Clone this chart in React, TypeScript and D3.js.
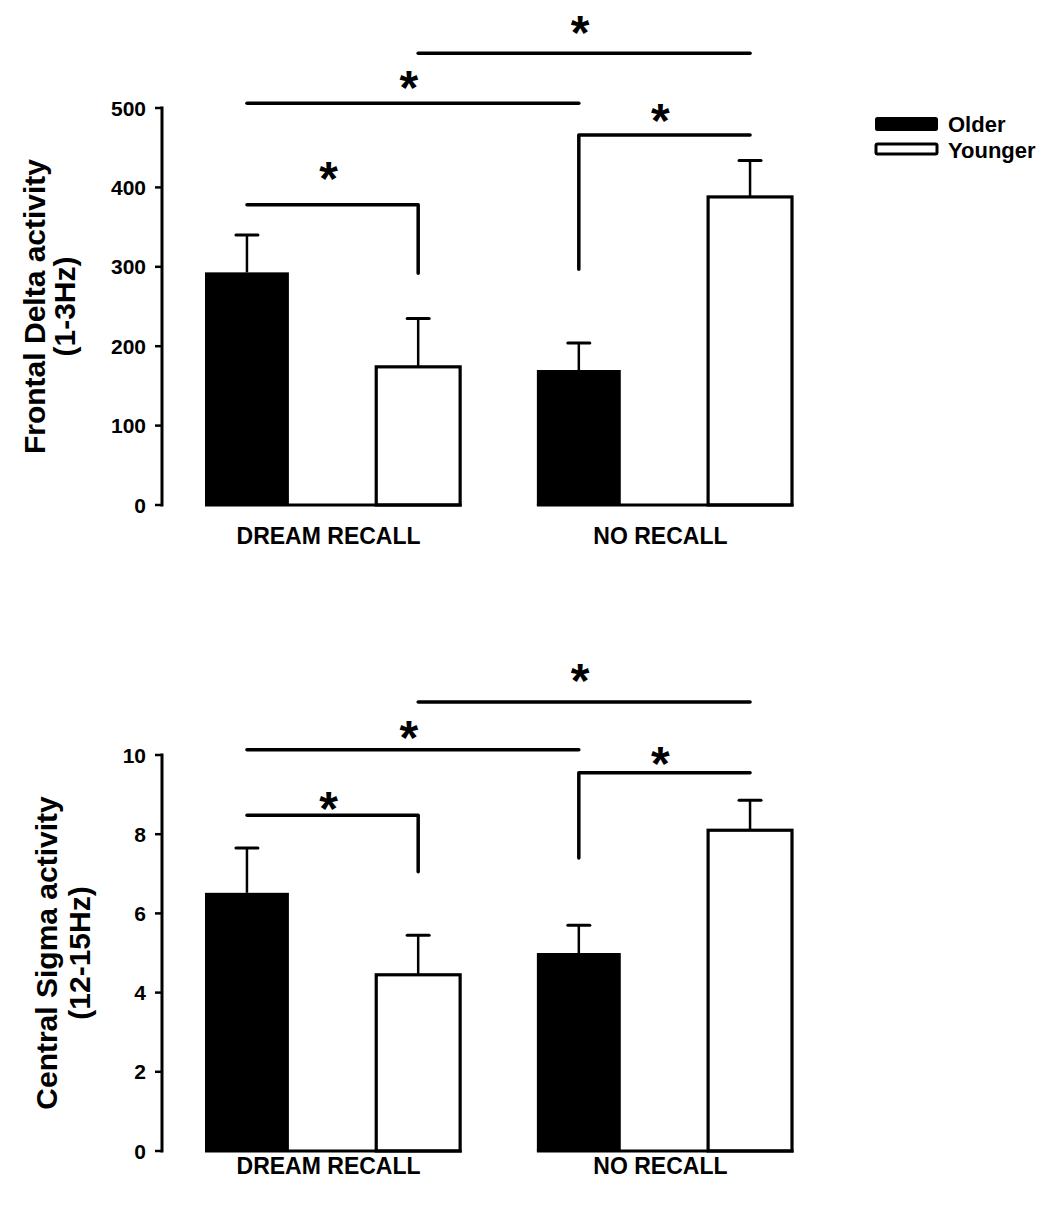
import React from "react";
import * as d3 from "d3";

const groups = ["DREAM RECALL", "NO RECALL"];
const seriesNames = ["Older", "Younger"];

const deltaOlder = [293, 170];
const deltaOlderErr = [340, 204];
const deltaYounger = [174, 388];
const deltaYoungerErr = [235, 434];
const deltaTicks = [0, 100, 200, 300, 400, 500];

const sigmaOlder = [6.52, 5.0];
const sigmaOlderErr = [7.65, 5.7];
const sigmaYounger = [4.45, 8.1];
const sigmaYoungerErr = [5.45, 8.86];
const sigmaTicks = [0, 2, 4, 6, 8, 10];

// significance brackets between bars [group, series]
type Sig = { a: [number, number]; b: [number, number]; y: number; dropA?: number; dropB?: number; star: number };
const deltaSig: Sig[] = [
  { a: [0, 0], b: [0, 1], y: 378, dropB: 292, star: 424 },
  { a: [0, 0], b: [1, 0], y: 506, star: 539 },
  { a: [1, 0], b: [1, 1], y: 466, dropA: 297, star: 497 },
  { a: [0, 1], b: [1, 1], y: 569, star: 608 },
];
const sigmaSig: Sig[] = [
  { a: [0, 0], b: [0, 1], y: 8.48, dropB: 7.05, star: 8.91 },
  { a: [0, 0], b: [1, 0], y: 10.13, star: 10.7 },
  { a: [1, 0], b: [1, 1], y: 9.55, dropA: 7.4, star: 10.05 },
  { a: [0, 1], b: [1, 1], y: 11.34, star: 12.15 },
];

const FONT = "'Liberation Sans', Arial, sans-serif";

function Panel(props: {
  top: number; bottom: number; maxV: number; ticks: number[];
  older: number[]; olderErr: number[]; younger: number[]; youngerErr: number[];
  sig: Sig[]; title1: string; title2: string; catY: number; titleX1: number; titleX2: number;
}) {
  const { top, bottom, maxV, ticks, older, olderErr, younger, youngerErr, sig } = props;
  const y = d3.scaleLinear().domain([0, maxV]).range([bottom, top]);
  const xg = d3.scaleBand().domain(groups).range([205, 205 + 333 + 254]).paddingInner(77 / 333).paddingOuter(0);
  const xs = d3.scaleBand().domain(seriesNames).range([0, xg.bandwidth()]).paddingInner(0.51).paddingOuter(0);
  const bw = xs.bandwidth();
  const cx = (g: number, s: number) => (xg(groups[g]) as number) + (xs(seriesNames[s]) as number) + bw / 2;
  const vals = [older, younger];
  const errs = [olderErr, youngerErr];
  const axisX = 162;
  const midY = (top + bottom) / 2;
  return (
    <g>
      <line x1={axisX} x2={axisX} y1={y(maxV) - 1.5} y2={y(0) + 1.5} stroke="#000" strokeWidth={3} />
      {ticks.map((t) => (
        <g key={t}>
          <line x1={axisX - 7} x2={axisX} y1={y(t)} y2={y(t)} stroke="#000" strokeWidth={2.5} />
          <text x={axisX - 16} y={y(t)} dy="0.36em" textAnchor="end" fontFamily={FONT} fontWeight="bold" fontSize={21}>{t}</text>
        </g>
      ))}
      <g transform={`translate(${props.titleX1},${midY}) rotate(-90)`}>
        <text textAnchor="middle" fontFamily={FONT} fontWeight="bold" fontSize={30}>{props.title1}</text>
      </g>
      <g transform={`translate(${props.titleX2},${midY}) rotate(-90)`}>
        <text textAnchor="middle" fontFamily={FONT} fontWeight="bold" fontSize={30}>{props.title2}</text>
      </g>
      {groups.map((g, gi) => {
        const gx = xg(g) as number;
        return (
          <g key={g}>
            {seriesNames.map((s, si) => {
              const x0 = gx + (xs(s) as number);
              const v = vals[si][gi];
              const e = errs[si][gi];
              const c = cx(gi, si);
              return (
                <g key={s}>
                  <line x1={c} x2={c} y1={y(v)} y2={y(e)} stroke="#000" strokeWidth={2.5} />
                  <line x1={c - 11} x2={c + 11} y1={y(e)} y2={y(e)} stroke="#000" strokeWidth={3} strokeLinecap="round" />
                  {si === 0 ? (
                    <rect x={x0} y={y(v)} width={bw} height={y(0) - y(v)} fill="#000" />
                  ) : (
                    <rect x={x0} y={y(v)} width={bw} height={y(0) - y(v)} fill="#fff" stroke="#000" strokeWidth={3.2} />
                  )}
                </g>
              );
            })}
            <line x1={gx} x2={gx + xg.bandwidth() + 1.5} y1={y(0)} y2={y(0)} stroke="#000" strokeWidth={3} />
            <text x={gx + xg.bandwidth() / 2 - 4} y={props.catY} textAnchor="middle" fontFamily={FONT} fontWeight="bold" fontSize={23}>{g}</text>
          </g>
        );
      })}
      {sig.map((s, i) => {
        const xa = cx(s.a[0], s.a[1]);
        const xb = cx(s.b[0], s.b[1]);
        const pts: [number, number][] = [];
        if (s.dropA !== undefined) pts.push([xa, y(s.dropA)]);
        pts.push([xa, y(s.y)]);
        pts.push([xb, y(s.y)]);
        if (s.dropB !== undefined) pts.push([xb, y(s.dropB)]);
        const line = d3.line();
        return (
          <g key={i}>
            <path d={line(pts) as string} fill="none" stroke="#000" strokeWidth={3.5} strokeLinecap="round" strokeLinejoin="round" />
            <text x={(xa + xb) / 2 - 4} y={y(s.star)} dy="0.56em" textAnchor="middle" fontFamily={FONT} fontWeight="bold" fontSize={48}>*</text>
          </g>
        );
      })}
    </g>
  );
}

export default function App() {
  return (
    <svg width={1063} height={1205} style={{ display: "block", position: "absolute", left: 0, top: 0, background: "#fff" }}>
      <rect width={1063} height={1205} fill="#fff" />
      <Panel top={108} bottom={505} maxV={500} ticks={deltaTicks}
        older={deltaOlder} olderErr={deltaOlderErr} younger={deltaYounger} youngerErr={deltaYoungerErr}
        sig={deltaSig} title1="Frontal Delta activity" title2="(1-3Hz)" catY={544} titleX1={45} titleX2={75} />
      <Panel top={755} bottom={1151} maxV={10} ticks={sigmaTicks}
        older={sigmaOlder} olderErr={sigmaOlderErr} younger={sigmaYounger} youngerErr={sigmaYoungerErr}
        sig={sigmaSig} title1="Central Sigma activity" title2="(12-15Hz)" catY={1174} titleX1={57} titleX2={90} />
      <g fontFamily={FONT} fontWeight="bold" fontSize={22}>
        <rect x={876} y={118} width={61} height={12} fill="#000" stroke="#000" strokeWidth={2} rx={1.5} />
        <text x={948} y={124} dy="0.36em">{seriesNames[0]}</text>
        <rect x={876} y={144} width={61} height={10} fill="#fff" stroke="#000" strokeWidth={3} rx={1.5} />
        <text x={948} y={150} dy="0.36em">{seriesNames[1]}</text>
      </g>
    </svg>
  );
}
